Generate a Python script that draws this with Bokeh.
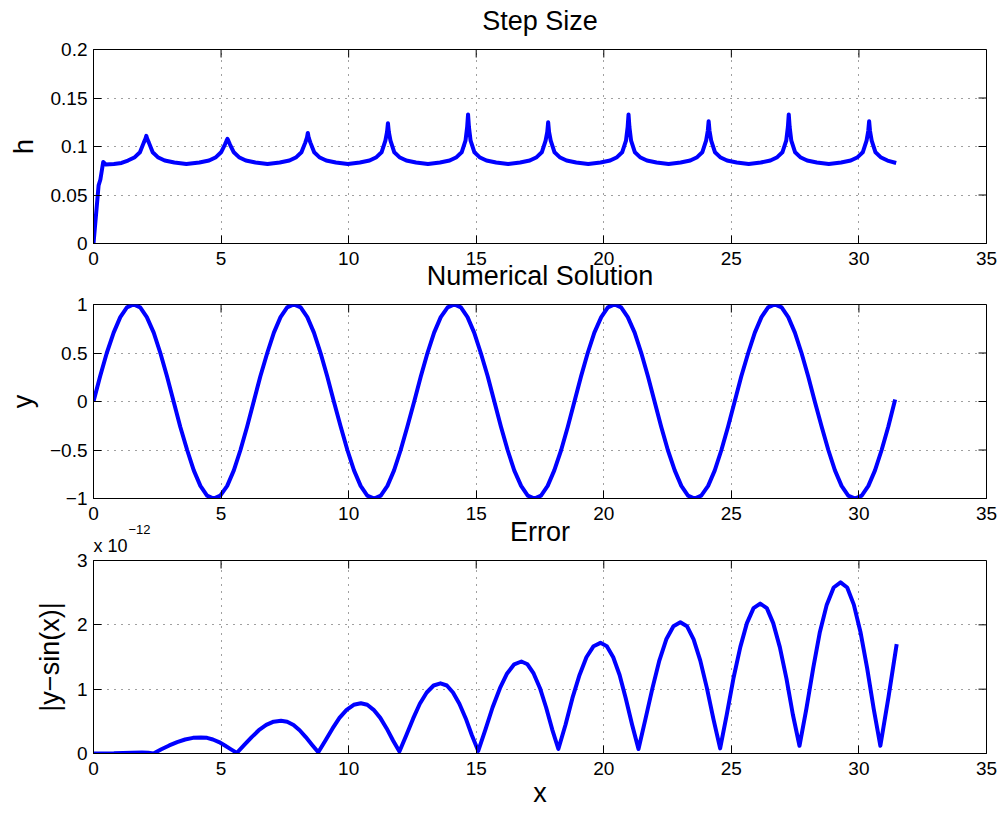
from bokeh.plotting import figure
from bokeh.models import Range1d, FixedTicker, Title
from bokeh.layouts import column
from bokeh.embed import file_html
from bokeh.resources import INLINE

# ---------------- data ----------------
x_ticks = [0, 5, 10, 15, 20, 25, 30, 35]

# Step size h(x)
x_h = [0, 0.2, 0.27, 0.38, 0.48, 0.8, 1.1, 1.35, 1.62, 1.82, 1.97, 2.035, 2.07, 2.105, 2.17, 2.32, 2.52, 2.79, 3.17, 3.64,
       4.15, 4.53, 4.80, 5.00, 5.15, 5.215, 5.25, 5.285, 5.35, 5.50, 5.70, 5.97, 6.35, 6.82,
       7.30, 7.68, 7.95, 8.15, 8.30, 8.365, 8.40, 8.435, 8.50, 8.65, 8.85, 9.12, 9.50, 9.97,
       10.44, 10.82, 11.09, 11.29, 11.44, 11.505, 11.54, 11.575, 11.64, 11.79, 11.99, 12.26, 12.64, 13.11,
       13.58, 13.96, 14.23, 14.43, 14.58, 14.645, 14.68, 14.715, 14.78, 14.93, 15.13, 15.40, 15.78, 16.25,
       16.72, 17.10, 17.37, 17.57, 17.72, 17.785, 17.82, 17.855, 17.92, 18.07, 18.27, 18.54, 18.92, 19.39,
       19.87, 20.25, 20.52, 20.72, 20.87, 20.935, 20.97, 21.005, 21.07, 21.22, 21.42, 21.69, 22.07, 22.54,
       23.01, 23.39, 23.66, 23.86, 24.01, 24.075, 24.11, 24.145, 24.21, 24.36, 24.56, 24.83, 25.21, 25.68,
       26.15, 26.53, 26.80, 27.00, 27.15, 27.215, 27.25, 27.285, 27.35, 27.50, 27.70, 27.97, 28.35, 28.82,
       29.30, 29.68, 29.95, 30.15, 30.30, 30.365, 30.40, 30.435, 30.50, 30.65, 30.85, 31.12, 31.46]
h = [0, 0.06, 0.066, 0.084, 0.0815, 0.082, 0.083, 0.0855, 0.089, 0.094, 0.104, 0.108, 0.111, 0.108, 0.104, 0.094, 0.089, 0.0855, 0.0835, 0.082,
     0.0835, 0.0855, 0.089, 0.094, 0.102, 0.106, 0.108, 0.106, 0.102, 0.094, 0.089, 0.0855, 0.0835, 0.082,
     0.0835, 0.0855, 0.089, 0.094, 0.104, 0.109, 0.114, 0.109, 0.104, 0.094, 0.089, 0.0855, 0.0835, 0.082,
     0.0835, 0.0855, 0.089, 0.094, 0.106, 0.115, 0.124, 0.115, 0.106, 0.094, 0.089, 0.0855, 0.0835, 0.082,
     0.0835, 0.0855, 0.089, 0.094, 0.106, 0.120, 0.133, 0.120, 0.106, 0.094, 0.089, 0.0855, 0.0835, 0.082,
     0.0835, 0.0855, 0.089, 0.094, 0.106, 0.115, 0.125, 0.115, 0.106, 0.094, 0.089, 0.0855, 0.0835, 0.082,
     0.0835, 0.0855, 0.089, 0.094, 0.106, 0.120, 0.133, 0.120, 0.106, 0.094, 0.089, 0.0855, 0.0835, 0.082,
     0.0835, 0.0855, 0.089, 0.094, 0.106, 0.116, 0.126, 0.116, 0.106, 0.094, 0.089, 0.0855, 0.0835, 0.082,
     0.0835, 0.0855, 0.089, 0.094, 0.106, 0.120, 0.133, 0.120, 0.106, 0.094, 0.089, 0.0855, 0.0835, 0.082,
     0.0835, 0.0855, 0.089, 0.094, 0.106, 0.116, 0.126, 0.116, 0.106, 0.094, 0.089, 0.0855, 0.083]
h_ticks = [0, 0.05, 0.1, 0.15, 0.2]
h_tick_labels = ["0", "0.05", "0.1", "0.15", "0.2"]

# Numerical solution y(x)
x_y = [0, 0.26, 0.52, 0.79, 1.05, 1.31, 1.57, 1.83, 2.09, 2.36, 2.62, 2.88,
       3.14, 3.40, 3.67, 3.93, 4.19, 4.45, 4.71, 4.97, 5.24, 5.50, 5.76, 6.02,
       6.28, 6.54, 6.81, 7.07, 7.33, 7.59, 7.85, 8.12, 8.38, 8.64, 8.90, 9.16,
       9.42, 9.69, 9.95, 10.21, 10.47, 10.73, 11.00, 11.26, 11.52, 11.78, 12.04, 12.30,
       12.57, 12.83, 13.09, 13.35, 13.61, 13.88, 14.14, 14.40, 14.66, 14.92, 15.18, 15.45,
       15.71, 15.97, 16.23, 16.49, 16.76, 17.02, 17.28, 17.54, 17.80, 18.06, 18.33, 18.59,
       18.85, 19.11, 19.37, 19.63, 19.90, 20.16, 20.42, 20.68, 20.94, 21.21, 21.47, 21.73,
       21.99, 22.25, 22.51, 22.78, 23.04, 23.30, 23.56, 23.82, 24.09, 24.35, 24.61, 24.87,
       25.13, 25.39, 25.66, 25.92, 26.18, 26.44, 26.70, 26.97, 27.23, 27.49, 27.75, 28.01,
       28.27, 28.54, 28.80, 29.06, 29.32, 29.58, 29.85, 30.11, 30.37, 30.63, 30.89, 31.15,
       31.42]
y = [0, 0.26, 0.5, 0.71, 0.87, 0.97, 1, 0.97, 0.87, 0.71, 0.5, 0.26,
     0, -0.26, -0.5, -0.71, -0.87, -0.97, -1, -0.97, -0.87, -0.71, -0.5, -0.26,
     0, 0.26, 0.5, 0.71, 0.87, 0.97, 1, 0.97, 0.87, 0.71, 0.5, 0.26,
     0, -0.26, -0.5, -0.71, -0.87, -0.97, -1, -0.97, -0.87, -0.71, -0.5, -0.26,
     0, 0.26, 0.5, 0.71, 0.87, 0.97, 1, 0.97, 0.87, 0.71, 0.5, 0.26,
     0, -0.26, -0.5, -0.71, -0.87, -0.97, -1, -0.97, -0.87, -0.71, -0.5, -0.26,
     0, 0.26, 0.5, 0.71, 0.87, 0.97, 1, 0.97, 0.87, 0.71, 0.5, 0.26,
     0, -0.26, -0.5, -0.71, -0.87, -0.97, -1, -0.97, -0.87, -0.71, -0.5, -0.26,
     0, 0.26, 0.5, 0.71, 0.87, 0.97, 1, 0.97, 0.87, 0.71, 0.5, 0.26,
     0, -0.26, -0.5, -0.71, -0.87, -0.97, -1, -0.97, -0.87, -0.71, -0.5, -0.26,
     0.02]
y_ticks = [-1, -0.5, 0, 0.5, 1]
y_tick_labels = ["\u22121", "\u22120.5", "0", "0.5", "1"]

# Error |y - sin(x)|, in units of 1e-12
x_e = [0, 0.8, 1.5, 1.9, 2.15, 2.35,
       2.66, 2.97, 3.28, 3.59, 3.90, 4.21, 4.45, 4.68, 4.92, 5.15, 5.39, 5.62,
       5.91, 6.20, 6.48, 6.77, 7.06, 7.35, 7.59, 7.84, 8.08, 8.32, 8.57, 8.81,
       9.09, 9.37, 9.64, 9.92, 10.20, 10.48, 10.73, 10.98, 11.24, 11.49, 11.74, 11.99,
       12.26, 12.53, 12.79, 13.06, 13.33, 13.60, 13.85, 14.09, 14.34, 14.59, 14.83, 15.08,
       15.36, 15.64, 15.93, 16.21, 16.49, 16.77, 17.01, 17.25, 17.50, 17.74, 17.98, 18.22,
       18.50, 18.77, 19.05, 19.32, 19.60, 19.87, 20.12, 20.37, 20.62, 20.86, 21.11, 21.36,
       21.63, 21.91, 22.18, 22.45, 22.73, 23.00, 23.26, 23.52, 23.78, 24.04, 24.30, 24.56,
       24.82, 25.08, 25.35, 25.61, 25.87, 26.13, 26.39, 26.64, 26.90, 27.16, 27.41, 27.67,
       27.94, 28.21, 28.47, 28.74, 29.01, 29.28, 29.54, 29.80, 30.06, 30.32, 30.58, 30.84,
       31.16, 31.48]
err = [0, 0.003, 0.012, 0.015, 0.01, 0.0,
       0.065, 0.125, 0.178, 0.218, 0.243, 0.25, 0.243, 0.218, 0.178, 0.125, 0.065, 0.01,
       0.133, 0.255, 0.362, 0.444, 0.495, 0.51, 0.495, 0.444, 0.362, 0.255, 0.133, 0.02,
       0.203, 0.39, 0.554, 0.679, 0.757, 0.78, 0.757, 0.679, 0.554, 0.39, 0.203, 0.03,
       0.283, 0.545, 0.774, 0.948, 1.057, 1.09, 1.057, 0.948, 0.774, 0.545, 0.283, 0.04,
       0.372, 0.715, 1.015, 1.244, 1.387, 1.43, 1.387, 1.244, 1.015, 0.715, 0.372, 0.07,
       0.447, 0.86, 1.221, 1.496, 1.668, 1.72, 1.668, 1.496, 1.221, 0.86, 0.447, 0.07,
       0.53, 1.02, 1.448, 1.775, 1.979, 2.04, 1.979, 1.775, 1.448, 1.02, 0.53, 0.08,
       0.606, 1.165, 1.654, 2.027, 2.26, 2.33, 2.26, 2.027, 1.654, 1.165, 0.606, 0.12,
       0.692, 1.33, 1.889, 2.314, 2.58, 2.66, 2.58, 2.314, 1.889, 1.33, 0.692, 0.12,
       0.88, 1.70]
e_ticks = [0, 1, 2, 3]
e_tick_labels = ["0", "1", "2", "3"]
e_multiplier = "x 10"
e_exponent = "\u221212"

titles = ["Step Size", "Numerical Solution", "Error"]

# ---------------- styling ----------------
FONT = "Liberation Sans"
BLUE = "#0000ff"
TICK_FS = "19px"
BIG_FS = "27px"


def style_axis(ax, ticks, labels=None):
    ax.ticker = FixedTicker(ticks=ticks)
    ax.axis_line_color = "black"
    ax.axis_line_width = 1
    ax.major_tick_in = 8
    ax.major_tick_out = 0
    ax.major_tick_line_color = "black"
    ax.minor_tick_line_color = None
    ax.major_label_text_font = FONT
    ax.major_label_text_font_size = TICK_FS
    ax.major_label_text_color = "black"
    ax.axis_label_text_font = FONT
    ax.axis_label_text_font_size = BIG_FS
    ax.axis_label_text_font_style = "normal"
    ax.axis_label_text_color = "black"
    if labels is not None:
        ax.major_label_overrides = {t: l for t, l in zip(ticks, labels)}


def make_fig(height, top, bottom, yr, yticks, ylabels, ylabel, title, xlabel=None, transparent=False):
    p = figure(width=1002, height=height,
               x_range=Range1d(0, 35), y_range=Range1d(*yr),
               output_backend="svg", toolbar_location=None,
               min_border_left=93, min_border_right=16,
               min_border_top=top, min_border_bottom=bottom,
               title=title)
    p.title.align = "center"
    p.title.text_font = FONT
    p.title.text_font_size = BIG_FS
    p.title.text_font_style = "normal"
    p.title.text_color = "black"
    p.title.standoff = 27

    p.outline_line_color = "black"
    p.outline_line_width = 1
    p.background_fill_color = "white"
    p.border_fill_color = None if transparent else "white"

    style_axis(p.xaxis[0], x_ticks)
    p.xaxis[0].major_label_standoff = 8
    p.xaxis[0].axis_label_standoff = 0
    if xlabel:
        p.xaxis[0].axis_label = xlabel
    style_axis(p.yaxis[0], yticks, ylabels)
    p.yaxis[0].major_label_standoff = 6
    p.yaxis[0].axis_label_standoff = 9
    p.yaxis[0].axis_label = ylabel

    p.xgrid.ticker = FixedTicker(ticks=x_ticks)
    p.ygrid.ticker = FixedTicker(ticks=yticks)
    p.grid.grid_line_color = "#000000"
    p.grid.grid_line_alpha = 0.75
    p.grid.grid_line_dash = "1 6"
    p.grid.grid_line_width = 1

    # inward tick marks on the top and right edges of the box
    p.ray(x=x_ticks, y=[yr[1]] * len(x_ticks), length=8, length_units="screen",
          angle=-90, angle_units="deg", line_color="black", line_width=1)
    p.ray(x=[35] * len(yticks), y=yticks, length=8, length_units="screen",
          angle=180, angle_units="deg", line_color="black", line_width=1)
    return p


# figure 1: step size (canvas starts above the page so its frame top sits at y=49)
p1 = make_fig(295, 64, 37, (0, 0.2), h_ticks, h_tick_labels, "h", titles[0], transparent=True)
p1.line(x_h, h, line_width=4, color=BLUE, line_join="round")
p1.margin = (-15, 0, 0, 0)

# figure 2: numerical solution (overlaps the bottom of figure 1)
p2 = make_fig(324, 64, 66, (-1, 1), y_ticks, y_tick_labels, "y", titles[1], transparent=True)
p2.line(x_y, y, line_width=4, color=BLUE, line_join="round")
p2.margin = (-40, 0, 0, 0)
# exponent of the error axis (x 10^-12), sits just above the error panel
p2.add_layout(Title(text=e_exponent, align="left", offset=35, standoff=0,
                    text_font=FONT, text_font_size="13px", text_font_style="normal",
                    text_color="black"), "below")
p2.add_layout(Title(text=e_multiplier, align="left", offset=0, standoff=0,
                    text_font=FONT, text_font_size="18px", text_font_style="normal",
                    text_color="black"), "below")

# figure 3: error (overlaps the bottom of figure 2)
p3 = make_fig(317, 64, 60, (0, 3), e_ticks, e_tick_labels, "|y\u2212sin(x)|", titles[2],
              xlabel="x", transparent=True)
p3.line(x_e, err, line_width=4, color=BLUE, line_join="round")
p3.margin = (-68, 0, 0, 0)

layout = column(p1, p2, p3, spacing=0)
open("out.html", "w").write(file_html(layout, INLINE))
